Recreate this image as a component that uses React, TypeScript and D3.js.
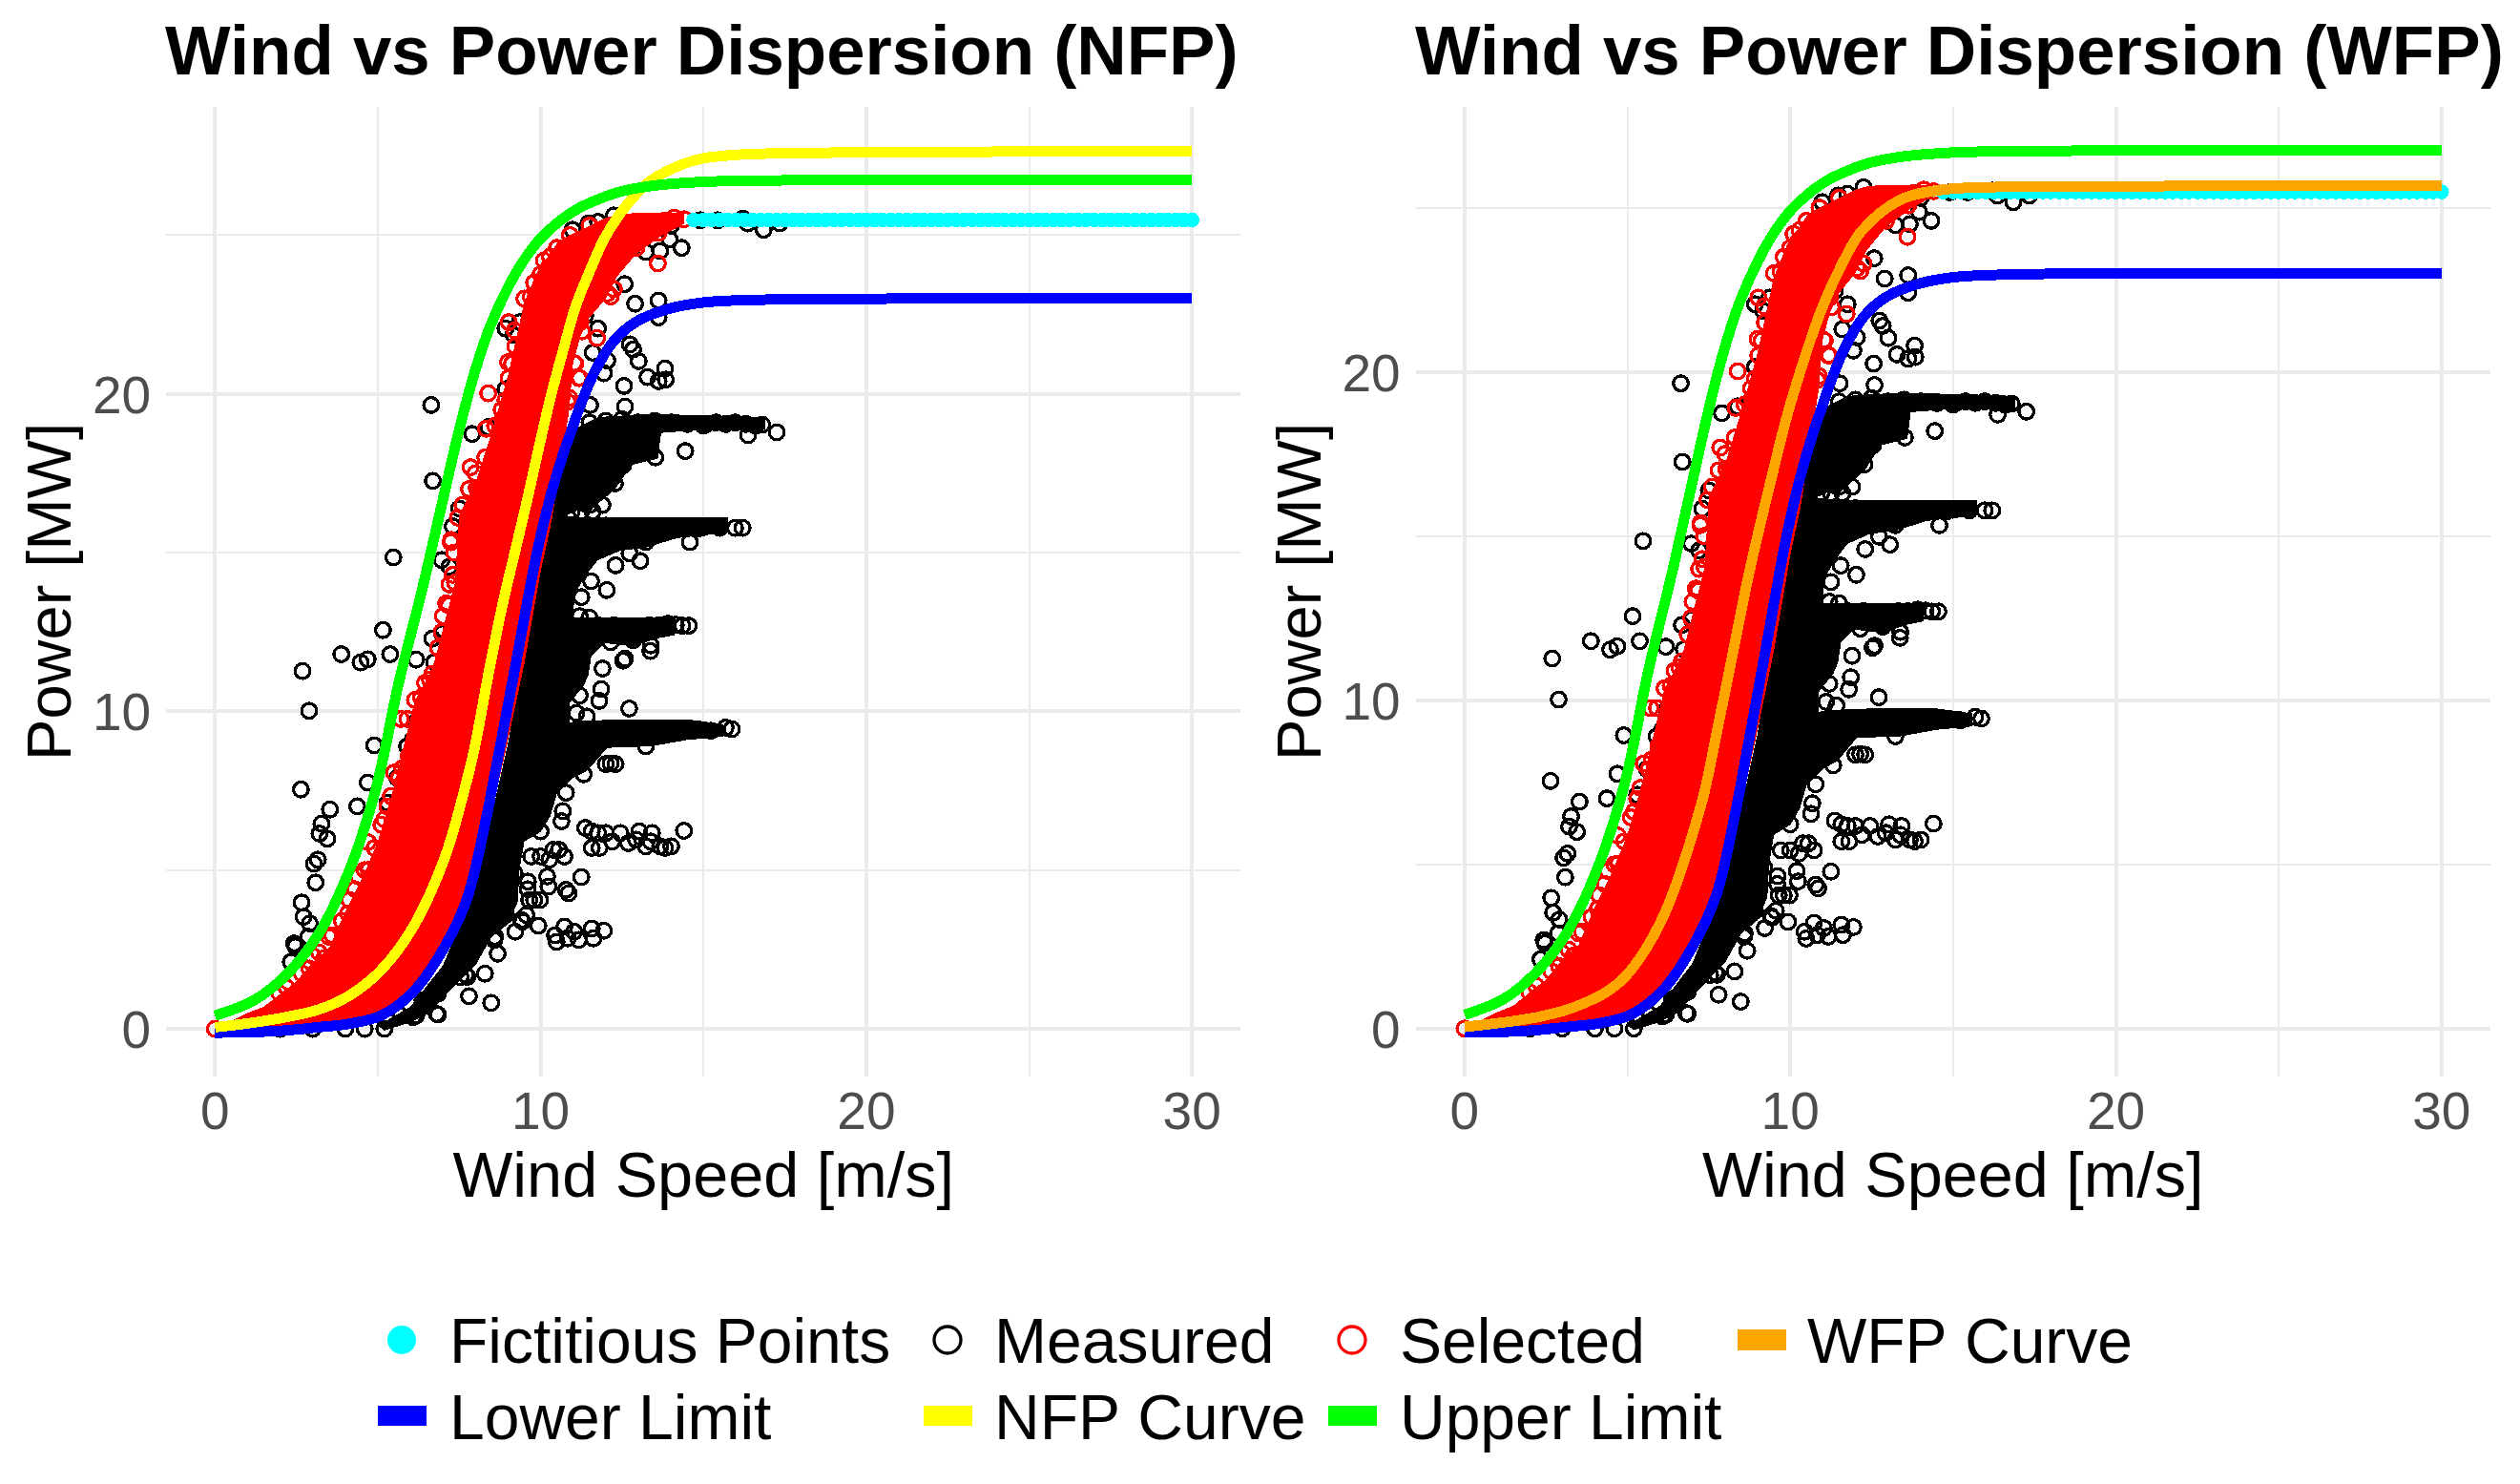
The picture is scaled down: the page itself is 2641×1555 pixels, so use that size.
import React from "react";
import * as d3 from "d3";

const WIDTH = 2641;
const HEIGHT = 1555;
const FONT = "'Liberation Sans', Arial, sans-serif";

const xDomain: [number, number] = [-1.5, 31.5];
const xMajor = [0, 10, 20, 30];
const xMinor = [5, 15, 25];
const yMajor = [0, 10, 20];
const yMinor = [5, 15, 25];

const upperWind = [0, 1.2, 2.18, 3.16, 4.13, 4.9, 5.21, 5.61, 6.39, 7.02, 7.46, 7.95, 8.44, 9.02, 9.51, 10, 10.59, 11.17, 12, 12.45, 13.4, 15, 18, 24, 30];
const upperPower = [0.42, 0.9, 1.69, 2.95, 5.0, 7.4, 8.75, 10.75, 13.96, 16.76, 18.7, 20.6, 22.1, 23.4, 24.25, 24.9, 25.45, 25.85, 26.22, 26.37, 26.55, 26.68, 26.73, 26.75, 26.75];
const lowerWind = [0, 1.2, 2.18, 3.16, 4.13, 5.1, 6.08, 7.06, 7.74, 8.3, 8.68, 9.22, 9.51, 9.9, 10.3, 10.69, 11, 11.17, 11.66, 12.25, 12.93, 13.9, 15, 17, 24, 30];
const lowerPower = [-0.12, -0.1, -0.05, 0.05, 0.16, 0.42, 1.16, 2.6, 4.1, 6.5, 8.5, 11.4, 13.0, 15.06, 16.76, 18.1, 19.0, 19.5, 20.7, 21.67, 22.27, 22.67, 22.88, 22.97, 23.0, 23.0];
const nfpWind = [0, 1.2, 2.18, 3.16, 4.13, 5.1, 6.08, 7.06, 7.55, 7.95, 8.44, 8.83, 9.22, 9.61, 9.9, 10.3, 10.69, 11.08, 11.47, 11.95, 12.44, 12.94, 13.4, 14.4, 15, 16, 17.5, 20, 25, 30];
const nfpPower = [0.05, 0.2, 0.37, 0.6, 1.05, 1.85, 3.2, 5.4, 7.1, 8.75, 11.4, 13.36, 15.06, 16.76, 18.1, 19.87, 21.37, 22.77, 23.77, 24.88, 25.68, 26.3, 26.73, 27.25, 27.42, 27.53, 27.58, 27.61, 27.63, 27.63];
const wfpWind = [0, 2.3, 3.55, 4.8, 6, 7.26, 7.67, 8.15, 8.74, 9.43, 10, 11, 11.6, 12.2, 13.4, 14.7, 16, 18.4, 24, 30];
const wfpPower = [0.05, 0.36, 0.72, 1.45, 3.2, 6.8, 8.65, 11.0, 13.89, 16.79, 19, 22, 23.3, 24.3, 25.25, 25.55, 25.62, 25.65, 25.66, 25.66];

const fictitiousWind = [14.7, 15, 15.25, 15.5, 15.75, 16, 16.25, 16.5, 16.75, 17, 17.25, 17.5, 17.75, 18, 18.25, 18.5, 18.75, 19, 19.25, 19.5, 19.75, 20, 20.25, 20.5, 20.75, 21, 21.25, 21.5, 21.75, 22, 22.25, 22.5, 22.75, 23, 23.25, 23.5, 23.75, 24, 24.25, 24.5, 24.75, 25, 25.25, 25.5, 25.75, 26, 26.25, 26.5, 26.75, 27, 27.25, 27.5, 27.75, 28, 28.25, 28.5, 28.75, 29, 29.25, 29.5, 29.75, 30];
const fictitiousPower = 25.48;

const selectedWind = [0, 0.5, 1, 1.5, 2, 2.5, 3, 3.5, 4, 4.5, 5, 5.5, 6.14, 6.5, 6.73, 7, 7.37, 7.5, 8, 8.5, 9, 9.5, 10, 10.3, 10.5, 10.7, 10.88, 11, 11.22, 11.5, 12, 12.35, 12.93, 13.7, 14.4];
const selectedHigh = [0.1, 0.25, 0.5, 0.7, 1.1, 1.5, 2.1, 2.55, 3.7, 4.7, 5.9, 7.65, 10.36, 11, 11.55, 12.6, 14.06, 16.2, 17.2, 18.8, 20.6, 22.9, 24.1, 24.4, 24.75, 24.9, 25, 25.05, 25.15, 25.3, 25.55, 25.65, 25.7, 25.7, 25.7];
const selectedLow = [-0.1, -0.12, -0.12, -0.1, -0.1, -0.05, -0.02, 0.02, 0.06, 0.12, 0.25, 0.5, 1.0, 1.6, 1.9, 2.2, 3, 3.2, 4.7, 6.8, 9.1, 11.5, 14.4, 15.8, 17, 18.3, 19.5, 21, 21.8, 22.4, 23, 23.7, 24.4, 24.97, 25.35];

const selectedPoints = [
  [0, 0], [1.16, 0.26], [1.99, 1.11], [2.67, 1.74], [3.35, 2.22], [3.6, 2.95], [4.09, 3.64], [4.13, 4.06], [4.72, 5.01], [4.7, 5.88],
  [5.11, 6.43], [5.4, 7.33], [5.5, 8.07], [6.23, 9.23], [5.91, 9.76], [5.71, 9.76], [6.33, 10.44], [6.67, 11.18], [6.96, 12.5], [7.18, 13.34], [7.25, 15.4],
  [7.24, 15.33], [8.04, 17.04], [7.85, 17.69], [8.32, 18.9], [8.83, 19.2], [8.92, 19.8], [8.39, 20.02], [9.02, 20.5], [9.12, 20.95], [9.22, 21.5],
  [9.02, 22.26], [9.7, 23.06], [10, 23.77], [10.29, 24.32], [10.54, 19.2], [10.59, 18.59], [10.83, 19.75], [11.17, 20.5], [11.06, 20.95], [11.73, 21.76],
  [12.05, 23.16], [12.25, 23.3], [11.76, 23.77], [12.25, 24.27], [12.94, 24.6], [13.6, 24.11], [13.62, 25.07], [14.1, 25.55], [14.4, 25.5], [13.8, 25.45],
  [11.37, 22.67], [11.22, 22.27], [12.15, 23.07], [7.46, 16.1], [7.37, 14.06], [6.14, 10.36], [8.14, 17.06],
  [2.2, 1.3], [2.9, 1.9], [3, 2.3], [3.2, 2.4], [3.5, 2.9], [3.9, 3.4], [4.3, 4.4], [4.4, 4.8], [4.6, 5], [4.9, 5.7], [5.2, 6.6], [5.3, 7], [5.65, 7.9], [5.75, 8.2], [5.95, 8.6], [6.1, 9],
  [6.45, 10.9], [6.6, 11], [6.85, 12], [7, 13], [7.1, 13.4], [7.2, 14], [7.3, 14.3], [7.35, 15], [7.6, 16.5], [7.8, 17], [8, 17.5], [8.3, 18], [8.6, 19], [8.8, 19.5], [9, 21], [9.2, 22],
  [9.5, 23], [9.8, 23.5], [10.1, 24.2], [10.5, 24.6], [10.9, 25], [11.5, 25.3], [11.2, 20.5], [11.03, 20.97], [10.88, 19.87], [11.27, 21.97],
];

const measuredPoints = [
  [6.64, 19.65], [6.69, 17.26], [5.48, 14.85], [5.16, 12.56], [5.38, 11.8], [3.88, 11.8], [4.47, 11.54], [4.69, 11.64], [2.69, 11.27], [2.89, 10.02],
  [4.89, 8.93], [2.64, 7.54], [4.69, 7.76], [4.37, 7.01], [3.53, 6.91], [3.27, 6.46], [3.21, 6.15], [3.45, 5.99], [3.16, 5.33], [3.04, 5.2],
  [3.09, 4.61], [2.66, 3.98], [2.72, 3.53], [2.91, 3.32], [2.43, 2.69], [2.47, 2.6], [2.33, 2.11], [2.87, 2.9], [6.96, 14.77], [7.2, 14.56],
  [6.67, 12.29], [6.18, 11.63], [6.08, 9.12], [5.3, 7.12], [7.25, 15.4], [7.5, 16.39], [7.3, 15.83], [7.9, 18.74], [8.39, 18.95], [8.92, 20.15],
  [8.92, 22.06], [9.17, 21.86], [9.36, 22.26], [14.33, 24.6], [13.96, 24.87], [13.67, 24.5], [13.23, 24.47], [12.58, 23.46], [12.9, 22.84], [13.62, 22.94],
  [13.62, 22.41], [11.76, 22.06], [12.74, 21.56], [12.84, 21.4], [13.01, 21.03], [13.28, 20.53], [13.82, 20.8], [13.62, 20.4], [13.84, 20.45], [12.56, 20.25],
  [12.59, 19.6], [11.52, 19.65], [12.05, 21.05], [11.94, 20.65], [11.6, 21.3], [11.37, 22.46], [14.44, 18.2], [13.52, 18], [13.06, 18.26], [16.37, 18.7],
  [17.25, 18.79], [12.54, 17.76], [12.28, 17.18], [11.71, 16.96], [11.37, 16.54], [14.58, 15.33], [13.23, 15.33], [16.85, 25.17], [15.43, 25.47], [16.21, 25.52],
  [16.36, 25.37], [17.34, 25.37], [14.9, 25.47], [15.97, 15.78], [16.2, 15.78], [15.09, 19.05], [15.38, 19.1], [15.68, 19.05], [15.97, 19.1], [16.8, 19.03],
  [16.6, 19], [11.5, 19.1], [12, 19.15], [12.5, 19.2], [13, 19.1], [13.5, 19.15], [14, 19.1], [14.5, 19.05], [15, 19], [16.3, 19.05],
  [11.2, 15.8], [12, 15.85], [12.8, 15.82], [13.6, 15.8], [14.4, 15.75], [15, 15.8], [15.5, 15.78], [14.35, 12.7], [14.55, 12.7], [14.15, 12.73],
  [12.72, 10.09], [11.42, 9.84], [11.86, 10.7], [11.8, 10.33], [11.9, 11.35], [12.53, 11.6], [12.59, 11.66], [13.38, 12.08], [13.37, 11.9], [11.5, 12.95],
  [13.06, 14.74], [12.73, 14.98], [12.3, 14.6], [12.03, 13.82], [12, 8.34], [12.3, 8.34], [12.15, 8.36], [11.32, 8.02], [10.78, 7.44], [10.68, 6.86],
  [10.64, 6.54], [9.9, 6.86], [9.51, 6.33], [10, 6.22], [9.17, 5.64], [9.71, 5.43], [10, 5.43], [10.39, 5.64], [10.73, 5.43], [10.2, 4.8],
  [10.24, 4.48], [9.61, 4.64], [8.92, 4.54], [8.92, 5.12], [8.43, 5.01], [11.25, 4.78], [10.78, 4.38], [10.86, 4.27], [9.8, 4.06], [9.65, 4.06],
  [8.48, 3.96], [8.92, 3.59], [9.56, 3.59], [9.44, 3.38], [9.22, 3.06], [9.93, 3.25], [10.44, 2.95], [10.73, 3.22], [10.49, 2.74], [11.03, 3.06],
  [11.17, 2.8], [11.57, 3.16], [11.62, 2.85], [11.94, 3.09], [10.83, 2.85], [8.58, 2.8], [8.68, 2.37], [8.29, 1.74], [7.8, 1.03], [8.48, 0.82],
  [7.75, 1.64], [6.85, 0.45], [6.85, 1.11], [11.37, 6.33], [11.57, 6.22], [11.57, 5.7], [11.81, 5.7], [12, 6.17], [12.2, 5.9], [12.69, 5.85],
  [12.45, 6.17], [13.03, 6.22], [12.93, 5.96], [13.23, 5.75], [13.42, 6.17], [13.38, 5.9], [13.67, 5.75], [14.01, 5.75], [14.4, 6.24], [13.82, 5.7],
  [11.76, 6.17], [12.25, 12.71], [12.84, 12.66], [13.33, 12.71], [13.62, 12.71], [13.91, 12.76], [12.15, 12.18], [12.84, 12.24], [11.76, 12.71], [14.6, 9.44],
  [14.89, 9.42], [15.23, 9.39], [15.68, 9.49], [15.87, 9.44], [6.08, 0.37], [6.81, 0.47], [5.2, 0], [4.6, 0], [4, 0], [3, 0], [2, 0], [1.2, 0],
  [10.98, 25.17], [11.47, 25.37], [11.76, 25.42], [12.25, 25.62], [13.7, 25.25], [14, 25.3], [11.07, 16.66], [11.36, 16.55], [11.17, 16.86], [11.5, 16.5],
  [13.23, 8.9], [6.97, 12.46], [6.73, 11.55], [7.17, 13.36], [5.9, 8.9], [6.2, 9.7], [5.6, 7.9],
  [6.18, 0.42], [5.7, 0.42], [6.37, 0.9], [6.86, 1.16], [7.54, 1.63], [7.7, 1.7], [8.6, 2.9], [7.84, 3.5], [8.37, 3.4], [8.9, 5.3], [9.2, 4.9], [9.6, 4.4], [10.27, 5.33], [10.56, 5.64], [9.98, 4.06], [9.4, 3.43],
  [11.5, 15.75], [12.4, 15.7], [13.2, 15.75], [14, 15.8], [14.8, 15.75], [12.5, 9.3], [13.3, 9.4], [14, 9.4], [14.3, 9.35],
  [10.95, 16.3], [11.25, 16.3], [11.6, 16.3], [11.9, 16.5], [11.2, 13.0], [11.25, 13.6], [11.55, 14.1], [11.1, 9.95], [11.2, 10.5],
];

const measuredDense = [
  [5.2, -0.05], [6, 0.2], [6.6, 0.5], [7, 1], [7.5, 1.5], [8, 2], [8.5, 2.9], [9, 3.3], [9.3, 4], [9.35, 5], [9.5, 5.9], [10, 6.2], [10.3, 6.7], [10.5, 7.4], [11, 7.9], [11.46, 8.15], [12.04, 8.85], [13.4, 8.9], [14.5, 9.1], [15.6, 9.2],
  [15.6, 9.6], [14.5, 9.75], [12.5, 9.75], [11.2, 9.7], [10.88, 9.65], [10.88, 10.25], [11.32, 10.8], [11.47, 11.15], [11.56, 11.75], [11.95, 12.15], [12.84, 12.05], [13.6, 12.3], [14.1, 12.4],
  [14.1, 12.95], [11.5, 12.95], [10.98, 12.95], [11.07, 13.75], [11.4, 14.3], [11.76, 14.76], [12.44, 15.06], [13.23, 15.16], [14.2, 15.46], [15.75, 15.62],
  [15.75, 16.1], [13, 16.1], [11.5, 16.1], [10.77, 16.16], [11.2, 16.35], [11.67, 16.46], [12.29, 17], [12.79, 17.76], [13.6, 17.96], [13.7, 18.77], [14.98, 18.87], [16.34, 18.87], [16.9, 18.87],
  [16.9, 19.27], [13.4, 19.37], [11.76, 19.27], [11.17, 18.97], [10.7, 18.4], [10, 15], [9, 9], [8, 4.5], [7, 2], [6, 0.7], [5, 0.1],
];

const legendRow1 = ["Fictitious Points", "Measured", "Selected", "WFP Curve"];
const legendRow2 = ["Lower Limit", "NFP Curve", "Upper Limit"];

function Panel({ left, titleX, title, yDomain, fitWind, fitPower, fitColor }: any) {
  const x = d3.scaleLinear().domain(xDomain).range([left, left + 1126.3]);
  const y = d3.scaleLinear().domain(yDomain).range([1128, 112]);
  const curve = (ws: number[], ps: number[]) =>
    d3.line<number>().x((d) => x(d)).y((_, i) => y(ps[i])).curve(d3.curveCatmullRom.alpha(0.5))(ws) as string;
  const band = d3
    .area<number>()
    .x((d) => x(d))
    .y0((_, i) => y(selectedLow[i]))
    .y1((_, i) => y(selectedHigh[i]))(selectedWind) as string;
  const dense = (d3.line<number[]>().x((d) => x(d[0])).y((d) => y(d[1]))(measuredDense) as string) + "Z";
  const [x0, x1] = x.range();
  const [yb, yt] = y.range();
  return (
    <g>
      <g stroke="#EBEBEB" fill="none" shapeRendering="crispEdges">
        {xMinor.map((t) => <line key={t} x1={x(t)} x2={x(t)} y1={yt} y2={yb} strokeWidth={2} />)}
        {yMinor.map((t) => <line key={t} x1={x0} x2={x1} y1={y(t)} y2={y(t)} strokeWidth={2} />)}
        {xMajor.map((t) => <line key={t} x1={x(t)} x2={x(t)} y1={yt} y2={yb} strokeWidth={4} />)}
        {yMajor.map((t) => <line key={t} x1={x0} x2={x1} y1={y(t)} y2={y(t)} strokeWidth={4} />)}
      </g>
      <g shapeRendering="crispEdges">
        <path d={dense} fill="#000" />
        {measuredPoints.map((p, i) => (
          <circle key={i} cx={x(p[0])} cy={y(p[1])} r={7.8} fill="none" stroke="#000" strokeWidth={3.3} />
        ))}
        <path d={band} fill="#f00" />
        {selectedPoints.map((p, i) => (
          <circle key={i} cx={x(p[0])} cy={y(p[1])} r={7.8} fill="none" stroke="#f00" strokeWidth={3.3} />
        ))}
        {fictitiousWind.map((w) => (
          <circle key={w} cx={x(w)} cy={y(fictitiousPower)} r={7.8} fill="#0ff" />
        ))}
        <path d={curve(lowerWind, lowerPower)} fill="none" stroke="#00f" strokeWidth={11} />
        <path d={curve(fitWind, fitPower)} fill="none" stroke={fitColor} strokeWidth={11} />
        <path d={curve(upperWind, upperPower)} fill="none" stroke="#0f0" strokeWidth={11} />
      </g>
      <text x={titleX} y={78} fontFamily={FONT} fontWeight="bold" fontSize={72.6} fill="#000">{title}</text>
      <text x={(x0 + x1) / 2} y={1254} textAnchor="middle" fontFamily={FONT} fontSize={66.6} fill="#000">Wind Speed [m/s]</text>
      <text transform={`translate(${left - 100},620) rotate(-90)`} textAnchor="middle" fontFamily={FONT} fontSize={65} fill="#000">Power [MW]</text>
      {xMajor.map((t) => (
        <text key={t} x={x(t)} y={1183} textAnchor="middle" fontFamily={FONT} fontSize={55} fill="#4D4D4D">{t}</text>
      ))}
      {yMajor.map((t) => (
        <text key={t} x={left - 16} y={y(t) + 20} textAnchor="end" fontFamily={FONT} fontSize={55} fill="#4D4D4D">{t}</text>
      ))}
    </g>
  );
}

function Legend() {
  const row1X = [471, 1042, 1467, 1894];
  const row2X = [471, 1042, 1467];
  const text = (s: string, px: number, py: number) => (
    <text key={s} x={px} y={py} fontFamily={FONT} fontSize={66} fill="#000" style={{ fontKerning: "none" }}>{s}</text>
  );
  return (
    <g>
      <circle cx={421} cy={1404} r={15} fill="#0ff" />
      <circle cx={993} cy={1404} r={14} fill="none" stroke="#000" strokeWidth={3.3} />
      <circle cx={1417} cy={1404} r={14} fill="none" stroke="#f00" strokeWidth={3.3} />
      <rect x={1821} y={1393} width={51} height={22} fill="#FFA500" />
      <rect x={396} y={1473} width={51} height={21} fill="#00f" />
      <rect x={968} y={1473} width={51} height={21} fill="#ff0" />
      <rect x={1392} y={1473} width={51} height={21} fill="#0f0" />
      {legendRow1.map((s, i) => text(s, row1X[i], 1428))}
      {legendRow2.map((s, i) => text(s, row2X[i], 1508))}
    </g>
  );
}

export default function App() {
  return (
    <svg width={WIDTH} height={HEIGHT} viewBox={`0 0 ${WIDTH} ${HEIGHT}`} style={{ position: "absolute", left: 0, top: 0, background: "#fff" }}>
      <Panel left={174.1} titleX={173} title="Wind vs Power Dispersion (NFP)" yDomain={[-1.5, 29.04]} fitWind={nfpWind} fitPower={nfpPower} fitColor="#ff0" />
      <Panel left={1483.7} titleX={1483} title="Wind vs Power Dispersion (WFP)" yDomain={[-1.46, 28.07]} fitWind={wfpWind} fitPower={wfpPower} fitColor="#FFA500" />
      <Legend />
    </svg>
  );
}
